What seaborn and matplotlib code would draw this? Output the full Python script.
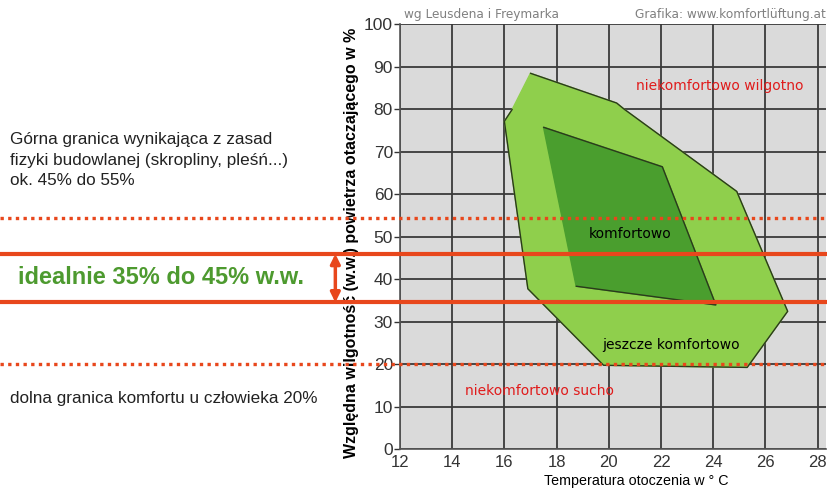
"""Strefy komfortu: wilgotnosc wzgledna vs temperatura (wg Leusdena i Freymarka)."""

import pandas as pd
import matplotlib.pyplot as plt
import matplotlib.transforms as mtransforms
import seaborn as sns

# outer zone ("jeszcze komfortowo") - temperature / humidity vertices
outer_temp = [17.0, 20.3, 20.6, 24.9, 26.85, 25.3, 19.8, 16.9, 16.0, 16.3]
outer_rh = [88.5, 81.5, 80.0, 60.7, 32.5, 19.3, 19.8, 37.8, 77.2, 80.0]

# inner zone ("komfortowo")
inner_temp = [17.5, 22.05, 24.1, 18.75]
inner_rh = [75.8, 66.5, 34.0, 38.4]

# horizontal limits
ideal_limits = [46.0, 34.6]
build_limit = 54.5
human_limit = 20.0

x_ticks = [12, 14, 16, 18, 20, 22, 24, 26, 28]
y_ticks = [0, 10, 20, 30, 40, 50, 60, 70, 80, 90, 100]

RED = '#e8471c'
LIGHT_GREEN = '#8fcf4c'
DARK_GREEN = '#4a9e2e'


def closed(xs, ys):
    return pd.DataFrame({'t': xs + xs[:1], 'rh': ys + ys[:1]})


sns.set_theme(style='white')
plt.rcParams['font.family'] = ['Liberation Sans', 'DejaVu Sans']

fig = plt.figure(figsize=(8.28, 4.88), dpi=100)
ax = fig.add_axes([0.483, 0.079, 0.514, 0.871])
ax.set_facecolor('#dadada')

# polygons
outer = closed(outer_temp, outer_rh)
inner = closed(inner_temp, inner_rh)
ax.fill(outer['t'], outer['rh'], color=LIGHT_GREEN, zorder=2)
sns.lineplot(data=outer, x='t', y='rh', sort=False, color='#2b3a1c',
             lw=1, ax=ax, zorder=3)
ax.fill(inner['t'], inner['rh'], color=DARK_GREEN, zorder=3)
sns.lineplot(data=inner, x='t', y='rh', sort=False, color='#2b3a1c',
             lw=1, ax=ax, zorder=4)

ax.set_xlim(12, 28.3)
ax.set_ylim(0, 100)
ax.set_xticks(x_ticks)
ax.set_yticks(y_ticks)
ax.grid(True, color='#3a3a3a', lw=1.3, zorder=1)
ax.set_axisbelow(True)
for side in ['top', 'right']:
    ax.spines[side].set_visible(False)
for side in ['left', 'bottom']:
    ax.spines[side].set_color('#555555')
    ax.spines[side].set_linewidth(1.2)
ax.tick_params(axis='both', labelsize=12.5, colors='#333333', length=4,
               width=1, direction='out', left=True, bottom=False, pad=1)
ax.tick_params(axis='x', labelsize=12, pad=0)

ax.set_ylabel('Względna wilgotność (w.w.) powietrza otaczającego w %',
              fontsize=11.5, fontweight='bold', color='black')
ax.yaxis.set_label_coords(-0.097, 0.485)
ax.set_xlabel('Temperatura otoczenia w ° C', fontsize=10.3, color='black')
ax.xaxis.set_label_coords(0.768, 0.001, transform=fig.transFigure)
ax.xaxis.label.set_va('bottom')

# red limit lines across the whole figure
trans = mtransforms.blended_transform_factory(fig.transFigure, ax.transData)
for y in ideal_limits:
    ax.plot([0, 1], [y, y], transform=trans, color=RED, lw=3,
            clip_on=False, zorder=6)
for y in [build_limit, human_limit]:
    ax.plot([0, 1], [y, y], transform=trans, color=RED, lw=2.4,
            ls=(0, (1, 1.3)), clip_on=False, zorder=6)

# double arrow between the ideal limits
ax.annotate('', xy=(0.405, ideal_limits[0]), xytext=(0.405, ideal_limits[1]),
            xycoords=trans, textcoords=trans,
            arrowprops=dict(arrowstyle='<|-|>', color=RED, lw=2.5,
                            mutation_scale=14, shrinkA=0, shrinkB=0))

# region labels
lab = dict(fontsize=10, family='DejaVu Sans', ha='center', va='center', zorder=7)
ax.text(24.25, 85.5, 'niekomfortowo wilgotno', color='#e01b1b', **lab)
ax.text(20.8, 50.8, 'komfortowo', color='black', **lab)
ax.text(22.4, 24.6, 'jeszcze komfortowo', color='black', **lab)
ax.text(17.35, 13.8, 'niekomfortowo sucho', color='#e01b1b', **lab)

# source notes
fig.text(0.488, 0.971, 'wg Leusdena i Freymarka', fontsize=8.7,
         family='DejaVu Sans', color='#808080', va='center')
fig.text(0.997, 0.971, 'Grafika: www.komfortlüftung.at', fontsize=8.7,
         family='DejaVu Sans', color='#808080', va='center', ha='right')

# explanatory texts on the left
fig.text(0.012, 0.672, 'Górna granica wynikająca z zasad\n'
         'fizyki budowlanej (skropliny, pleśń...)\nok. 45% do 55%',
         fontsize=12.3, color='#222222', va='center', linespacing=1.45)
ax.text(0.022, 40.4, 'idealnie 35% do 45% w.w.', transform=trans,
        fontsize=17, fontweight='bold', color='#4d9a2f', va='center')
fig.text(0.012, 0.183, 'dolna granica komfortu u człowieka 20%',
         fontsize=12.3, color='#222222', va='center')

plt.savefig('out.png', dpi=100)
